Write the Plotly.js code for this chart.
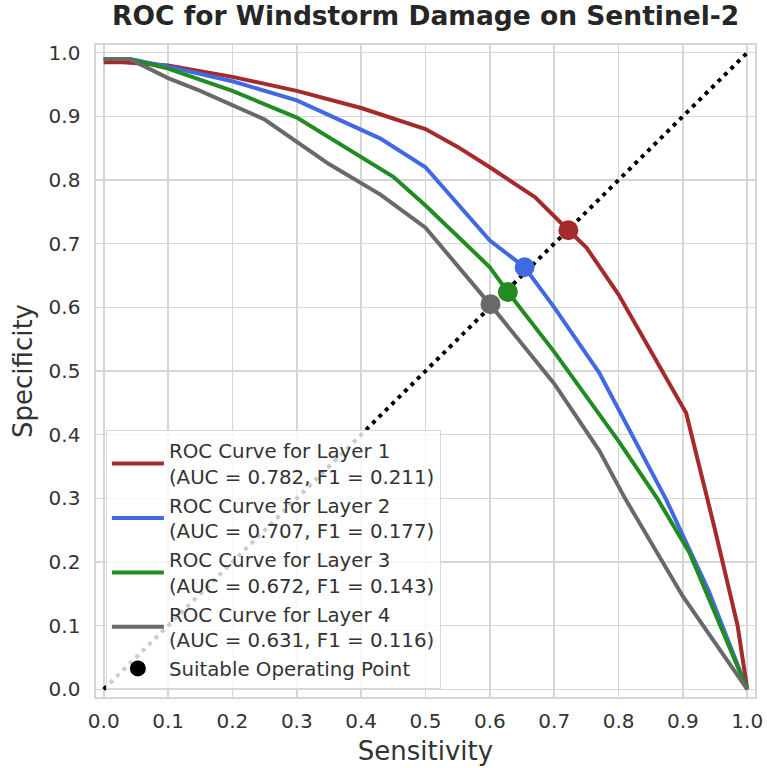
<!DOCTYPE html>
<html>
<head>
<meta charset="utf-8">
<script src="https://cdn.plot.ly/plotly-3.0.1.min.js"></script>
<style>html,body{margin:0;padding:0;background:#fff;}#chart{width:767px;height:768px;}</style>
</head>
<body>
<div id="chart"></div>
<script>
const layer1X = [0, 0.03, 0.1, 0.2, 0.3, 0.4, 0.5, 0.55, 0.6, 0.67, 0.722, 0.75, 0.8, 0.85, 0.905, 0.95, 0.985, 1.0];
const layer1Y = [0.985, 0.985, 0.98, 0.962, 0.94, 0.913, 0.88, 0.852, 0.82, 0.773, 0.721, 0.694, 0.62, 0.53, 0.434, 0.25, 0.1, 0.0];
const layer2X = [0, 0.04, 0.1, 0.2, 0.3, 0.43, 0.5, 0.6, 0.654, 0.7, 0.77, 0.874, 0.91, 0.94, 1.0];
const layer2Y = [0.99, 0.99, 0.978, 0.955, 0.925, 0.865, 0.82, 0.705, 0.663, 0.6, 0.497, 0.298, 0.22, 0.155, 0];
const layer3X = [0, 0.04, 0.1, 0.2, 0.3, 0.45, 0.5, 0.6, 0.628, 0.7, 0.8, 0.86, 0.91, 1.0];
const layer3Y = [0.99, 0.99, 0.975, 0.94, 0.898, 0.805, 0.76, 0.663, 0.624, 0.53, 0.39, 0.3, 0.215, 0];
const layer4X = [0, 0.04, 0.1, 0.15, 0.25, 0.35, 0.43, 0.5, 0.6, 0.7, 0.77, 0.81, 0.9, 1.0];
const layer4Y = [0.99, 0.99, 0.96, 0.94, 0.895, 0.825, 0.777, 0.725, 0.605, 0.48, 0.375, 0.3, 0.146, 0];
const opX = [0.722, 0.654, 0.628, 0.601];
const opY = [0.721, 0.663, 0.624, 0.605];
const names = [
  "ROC Curve for Layer 1<br>(AUC = 0.782, F1 = 0.211)",
  "ROC Curve for Layer 2<br>(AUC = 0.707, F1 = 0.177)",
  "ROC Curve for Layer 3<br>(AUC = 0.672, F1 = 0.143)",
  "ROC Curve for Layer 4<br>(AUC = 0.631, F1 = 0.116)"
];
const opName = "Suitable Operating Point";
const diagX = [0, 1];
const diagY = [0, 1];
const tickVals = [0, 0.1, 0.2, 0.3, 0.4, 0.5, 0.6, 0.7, 0.8, 0.9, 1.0];

const colors = ["#a52a2a", "#4169e1", "#228b22", "#696969"];
const xs = [layer1X, layer2X, layer3X, layer4X];
const ys = [layer1Y, layer2Y, layer3Y, layer4Y];

const traces = [];
for (let i = 0; i < 4; i++) {
  traces.push({x: xs[i], y: ys[i], mode: 'lines', name: names[i],
    line: {color: colors[i], width: 4}, hoverinfo: 'skip'});
}
traces.push({x: diagX, y: diagY, mode: 'lines', showlegend: false,
  line: {color: '#000', width: 4, dash: '4px,5px'}, hoverinfo: 'skip'});
for (let i = 0; i < 4; i++) {
  traces.push({x: [opX[i]], y: [opY[i]], mode: 'markers', showlegend: false,
    marker: {color: colors[i], size: 20}, hoverinfo: 'skip'});
}
traces.push({x: [null], y: [null], mode: 'markers', name: opName,
  marker: {color: '#000', size: 20}});

const axisCommon = {
  range: [-0.012, 1.012], tickvals: tickVals, tickformat: '.1f',
  showgrid: true, gridcolor: '#d6d6d6', gridwidth: 1.6,
  zeroline: false, showline: true, linecolor: '#d6d6d6', linewidth: 1.6, mirror: true,
  ticks: '', tickfont: {size: 20, color: '#333', family: 'DejaVu Sans'}
};

const layout = {
  width: 767, height: 768,
  margin: {l: 96, r: 12, t: 45, b: 71},
  paper_bgcolor: '#fff', plot_bgcolor: '#fff',
  font: {family: 'DejaVu Sans', color: '#333'},
  title: {text: '<b>ROC for Windstorm Damage on Sentinel-2</b>', font: {size: 26.5, color: '#262626'},
    x: 0.555, xanchor: 'center', y: 0.992, yanchor: 'top'},
  xaxis: Object.assign({}, axisCommon, {ticklabelstandoff: 5,
    title: {text: 'Sensitivity', font: {size: 26, color: '#333'}, standoff: 10}}),
  yaxis: Object.assign({}, axisCommon, {ticklabelstandoff: 10,
    title: {text: 'Specificity', font: {size: 26, color: '#333'}, standoff: 8}}),
  legend: {x: 0.015, y: 0.012, xanchor: 'left', yanchor: 'bottom',
    bgcolor: 'rgba(255,255,255,0.8)', bordercolor: '#d8d8d8', borderwidth: 1,
    font: {size: 19.8, color: '#333'}, itemwidth: 52, tracegroupgap: 0},
  showlegend: true
};

Plotly.newPlot('chart', traces, layout, {displayModeBar: false, staticPlot: true});
</script>
</body>
</html>
